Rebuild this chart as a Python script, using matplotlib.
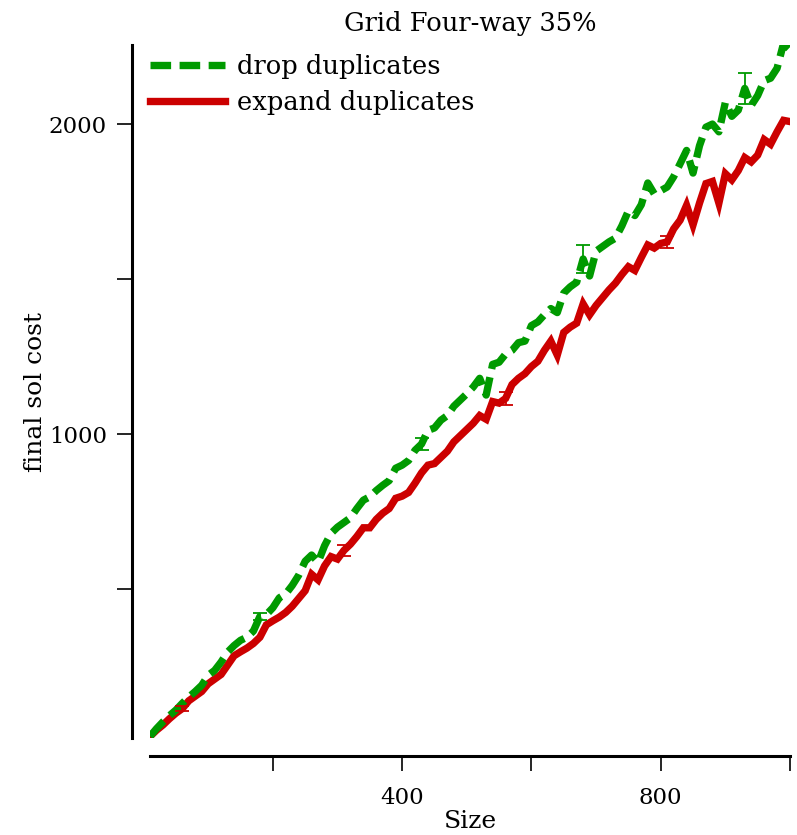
import numpy as np
import matplotlib
matplotlib.use("Agg")
import matplotlib.pyplot as plt

plt.rcParams['font.family'] = ['DejaVu Serif']

# problem sizes (x axis)
sizes = np.arange(10, 1001, 10)

# final solution cost
drop_dup = [25, 50, 72, 92, 110, 132, 152, 170, 190, 222,
            238, 265, 297, 318, 335, 345, 365, 412, 418, 440,
            472, 485, 512, 545, 590, 610, 587, 640, 680, 700,
            715, 730, 760, 787, 798, 818, 835, 850, 890, 900,
            915, 948, 968, 1012, 1020, 1045, 1060, 1090, 1110, 1130,
            1152, 1180, 1126, 1225, 1232, 1258, 1270, 1295, 1300, 1350,
            1362, 1385, 1405, 1392, 1455, 1475, 1490, 1565, 1510, 1590,
            1605, 1620, 1632, 1672, 1720, 1705, 1740, 1810, 1775, 1785,
            1797, 1830, 1872, 1915, 1842, 1930, 1990, 2000, 1975, 2070,
            2025, 2045, 2115, 2060, 2092, 2140, 2148, 2180, 2260, 2240]

expand_dup = [25, 45, 62, 82, 100, 115, 140, 155, 170, 195,
              210, 225, 255, 285, 298, 310, 325, 345, 385, 398,
              410, 425, 445, 470, 495, 548, 530, 575, 605, 597,
              625, 645, 670, 698, 698, 725, 745, 760, 793, 800,
              812, 842, 875, 900, 905, 925, 945, 975, 995, 1015,
              1035, 1060, 1048, 1105, 1100, 1115, 1160, 1180, 1195, 1218,
              1235, 1270, 1300, 1255, 1328, 1345, 1358, 1420, 1385, 1415,
              1440, 1465, 1487, 1515, 1540, 1528, 1570, 1610, 1600, 1615,
              1620, 1662, 1690, 1738, 1675, 1745, 1808, 1815, 1745, 1840,
              1820, 1850, 1892, 1878, 1900, 1950, 1935, 1975, 2012, 2008]

# sizes with error bars and their half widths
drop_err_x = [180, 430, 680, 930]
drop_err = [10, 20, 45, 50]
expand_err_x = [60, 310, 560, 810]
expand_err = [8, 18, 20, 20]

green = '#009a00'
red = '#cc0000'

fig = plt.figure(figsize=(7.97, 8.35), dpi=100)
ax = fig.add_axes([150 / 797, 1 - 738 / 835, 640 / 797, 693 / 835])

ax.plot(sizes, drop_dup, color=green, lw=5.3, ls=(0, (2.8, 1.15)),
        dash_capstyle='butt', label='drop duplicates', zorder=3)
ax.plot(sizes, expand_dup, color=red, lw=5.3, solid_joinstyle='miter',
        label='expand duplicates', zorder=2)

lookup_d = dict(zip(sizes, drop_dup))
lookup_e = dict(zip(sizes, expand_dup))
ax.errorbar(drop_err_x, [lookup_d[s] for s in drop_err_x], yerr=drop_err,
            fmt='none', ecolor=green, elinewidth=1.3, capsize=5, capthick=1.3, zorder=4)
ax.errorbar(expand_err_x, [lookup_e[s] for s in expand_err_x], yerr=expand_err,
            fmt='none', ecolor=red, elinewidth=1.3, capsize=5, capthick=1.3, zorder=4)

ax.set_xlim(10, 1000)
ax.set_ylim(20, 2255)

for s in ['top', 'right']:
    ax.spines[s].set_visible(False)
for s in ['left', 'bottom']:
    ax.spines[s].set_position(('outward', 13))
    ax.spines[s].set_linewidth(2.2)

ax.set_xticks([200, 400, 600, 800, 1000], ['', '400', '', '800', ''])
ax.set_yticks([500, 1000, 1500, 2000], ['', '1000', '', '2000'])
ax.tick_params(axis='both', direction='out', length=11, width=1.2, labelsize=16.5)
ax.tick_params(axis='x', pad=11)
ax.tick_params(axis='y', pad=7)

ax.set_xlabel('Size', fontsize=18, labelpad=1)
ax.set_ylabel('final sol cost', fontsize=18, labelpad=1)
ax.set_title('Grid Four-way 35%', fontsize=18.5, pad=10)

ax.legend(loc='upper left', bbox_to_anchor=(-0.016, 1.002), frameon=False, fontsize=18.5,
          handlelength=2.9, handletextpad=0.5, labelspacing=0.42, borderaxespad=0)

fig.savefig('out.png', dpi=100)
